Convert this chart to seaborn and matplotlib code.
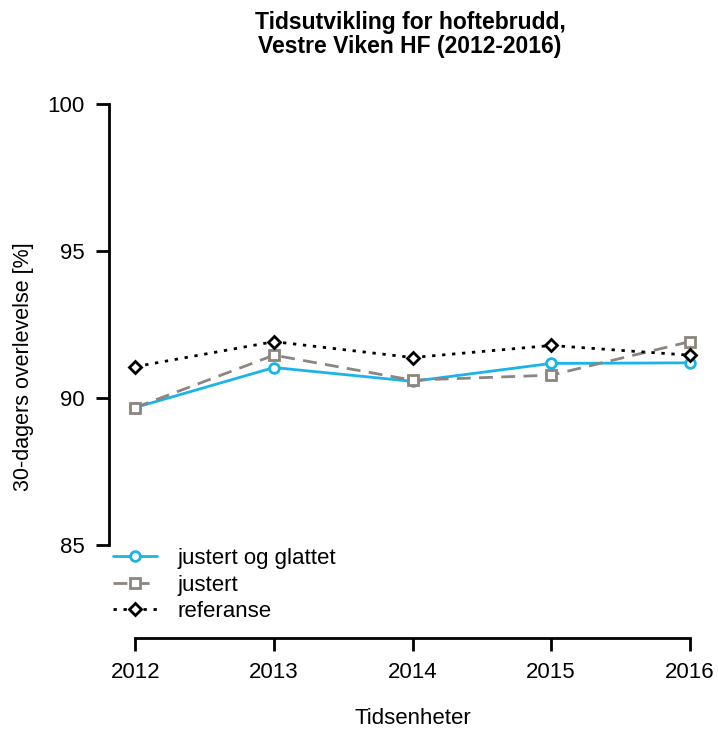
import matplotlib
matplotlib.use("Agg")
import matplotlib.pyplot as plt
import seaborn as sns
import pandas as pd

years = [2012, 2013, 2014, 2015, 2016]
justert_glattet = [89.68, 91.04, 90.57, 91.18, 91.20]
justert = [89.68, 91.46, 90.61, 90.78, 91.92]
referanse = [91.07, 91.92, 91.38, 91.79, 91.46]
series_names = ["justert og glattet", "justert", "referanse"]

sns.set_style("white")
plt.rcParams["font.family"] = ["Liberation Sans", "DejaVu Sans"]
plt.rcParams["text.color"] = "black"
plt.rcParams["axes.labelcolor"] = "black"
plt.rcParams["xtick.color"] = "black"
plt.rcParams["ytick.color"] = "black"

df = pd.DataFrame({
    "Tidsenheter": years * 3,
    "verdi": justert_glattet + justert + referanse,
    "serie": [series_names[0]] * 5 + [series_names[1]] * 5 + [series_names[2]] * 5,
})

fig = plt.figure(figsize=(7.18, 7.33), dpi=100)
W, H = 718, 733
left, right, top, bottom = 109, 716, 95.3, 638
ax = fig.add_axes([left / W, 1 - bottom / H, (right - left) / W, (bottom - top) / H])

styles = {
    "justert og glattet": dict(color="#1AB4E6", marker="o", dashes=None),
    "justert": dict(color="#8C8580", marker="s", dashes=(5, 3)),
    "referanse": dict(color="black", marker="D", dashes=(1.2, 2.4)),
}

for name in series_names:
    st = styles[name]
    sub = df[df["serie"] == name]
    kw = dict(x="Tidsenheter", y="verdi", data=sub, ax=ax, color=st["color"],
              marker=st["marker"], markersize=7 if st["marker"] != "D" else 6.3,
              markerfacecolor="white", markeredgecolor=st["color"],
              markeredgewidth=2.0, linewidth=2.0, label=name)
    lines = sns.lineplot(**kw).get_lines()
    ln = lines[-1]
    if st["dashes"] is not None:
        ln.set_dashes(st["dashes"])

ax.set_xlim(2011.81, 2016.19)
ax.set_ylim(81.84, 100.3)
ax.set_xticks(years)
ax.set_xticklabels([str(y) for y in years])
ax.set_yticks([85, 90, 95, 100])
ax.set_yticklabels(["85", "90", "95", "100"])

for s in ["top", "right"]:
    ax.spines[s].set_visible(False)
ax.spines["left"].set_bounds(85, 100)
ax.spines["bottom"].set_bounds(2012, 2016)
for s in ["left", "bottom"]:
    ax.spines[s].set_linewidth(2.0)
    ax.spines[s].set_color("black")

ax.tick_params(axis="both", direction="out", length=9.5, width=2.0, color="black",
               labelcolor="black", labelsize=16, pad=8, left=True, bottom=True)
ax.set_xlabel("Tidsenheter", fontsize=16, labelpad=18, color="black")
ax.set_ylabel("30-dagers overlevelse [%]", fontsize=15.5, labelpad=10, color="black")

fig.text(410 / W, 1 - 23 / H, "Tidsutvikling for hoftebrudd,", ha="center", va="center",
         fontsize=16.5, fontweight="bold", color="black")
fig.text(410 / W, 1 - 47 / H, "Vestre Viken HF (2012-2016)", ha="center", va="center",
         fontsize=16.5, fontweight="bold", color="black")

leg = ax.legend(loc="upper left", bbox_to_anchor=(113 / W, 1 - 548 / H),
                bbox_transform=fig.transFigure, frameon=False, fontsize=16,
                handlelength=2.0, handletextpad=0.9, labelspacing=0.25,
                borderpad=0, borderaxespad=0)
for t in leg.get_texts():
    t.set_color("black")

fig.savefig("out.png", dpi=100)
